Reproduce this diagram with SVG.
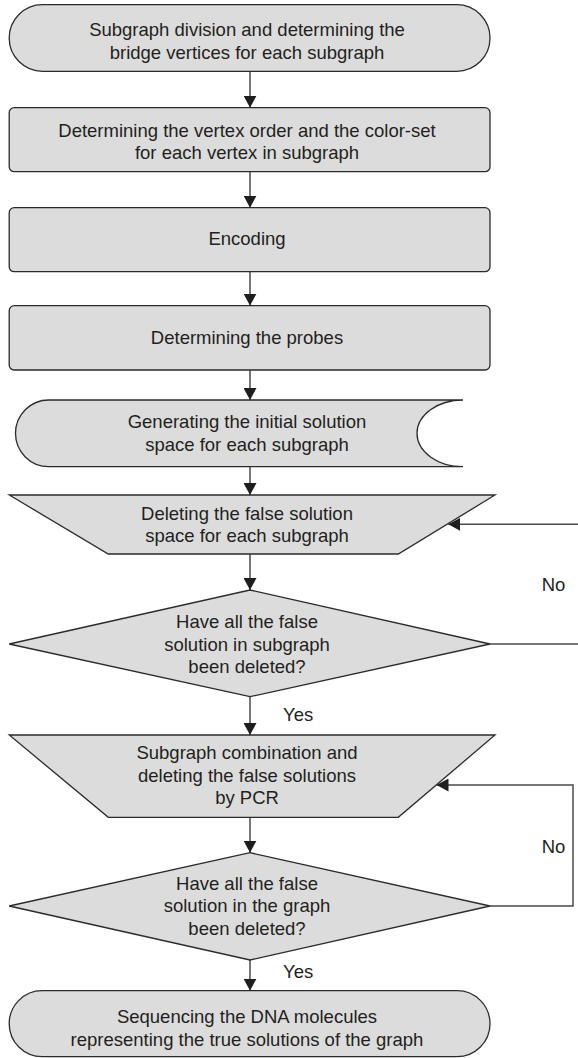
<svg xmlns="http://www.w3.org/2000/svg" width="578" height="1058" viewBox="0 0 578 1058">
<style>
.n{fill:#dcdcdc;stroke:#2b2b2b;stroke-width:1.3}
.t{font-family:"Liberation Sans",Arial,sans-serif;font-size:18.5px;fill:#231f20;text-anchor:middle}
.l{font-family:"Liberation Sans",Arial,sans-serif;font-size:18.5px;fill:#231f20}
.c{fill:none;stroke:#4a4a4a;stroke-width:1.5}
</style>
<defs>
<marker id="ah" markerUnits="userSpaceOnUse" markerWidth="13" markerHeight="13" refX="12" refY="6.5" orient="auto">
<path d="M0,0 L12,6.5 L0,13 z" fill="#1e1e1e"/>
</marker>
</defs>
<rect width="578" height="1058" fill="#fff"/>
<g id="connectors">
<line class="c" x1="250" y1="71.3" x2="250" y2="107.7" marker-end="url(#ah)"/>
<line class="c" x1="250" y1="171.7" x2="250" y2="207.7" marker-end="url(#ah)"/>
<line class="c" x1="250" y1="271.7" x2="250" y2="305.7" marker-end="url(#ah)"/>
<line class="c" x1="250" y1="370" x2="250" y2="400" marker-end="url(#ah)"/>
<line class="c" x1="250" y1="466.7" x2="250" y2="495" marker-end="url(#ah)"/>
<line class="c" x1="250" y1="554" x2="250" y2="590" marker-end="url(#ah)"/>
<line class="c" x1="250" y1="696.7" x2="250" y2="735" marker-end="url(#ah)"/>
<line class="c" x1="250" y1="817.3" x2="250" y2="852.7" marker-end="url(#ah)"/>
<line class="c" x1="250" y1="960" x2="250" y2="990.7" marker-end="url(#ah)"/>
<line class="c" x1="578" y1="524.3" x2="448.3" y2="524.3" marker-end="url(#ah)"/>
<line class="c" x1="490" y1="644" x2="578" y2="644"/>
<polyline class="c" points="490,906 573,906 573,785 436.5,785" marker-end="url(#ah)"/>
<text class="l" x="541.7" y="590.7">No</text>
<text class="l" x="283" y="721">Yes</text>
<text class="l" x="541.7" y="852.7">No</text>
<text class="l" x="283" y="978.3">Yes</text>
</g>
<g id="n1">
<rect class="n" x="9.2" y="4.7" width="480.8" height="66.6" rx="33.3" ry="33.3"/>
<text class="t" x="247" y="36">Subgraph division and determining the</text>
<text class="t" x="247" y="58.7">bridge vertices for each subgraph</text>
</g>
<g id="n2">
<rect class="n" x="9.2" y="107.7" width="480.8" height="64" rx="5" ry="5"/>
<text class="t" x="247" y="136.5">Determining the vertex order and the color-set</text>
<text class="t" x="247" y="159">for each vertex in subgraph</text>
</g>
<g id="n3">
<rect class="n" x="9.2" y="207.7" width="480.8" height="64" rx="5" ry="5"/>
<text class="t" x="247" y="245">Encoding</text>
</g>
<g id="n4">
<rect class="n" x="9.2" y="305.7" width="480.8" height="64.3" rx="5" ry="5"/>
<text class="t" x="247" y="344">Determining the probes</text>
</g>
<g id="n5">
<path class="n" d="M48.8,400 L463,400 A46,33.35 0 0 0 463,466.7 L48.8,466.7 A33.3,33.35 0 0 1 48.8,400 Z"/>
<text class="t" x="247" y="428.3">Generating the initial solution</text>
<text class="t" x="247" y="450.7">space for each subgraph</text>
</g>
<g id="n6">
<polygon class="n" points="9.3,495 495,495 398.3,554 108.3,554"/>
<text class="t" x="247" y="520">Deleting the false solution</text>
<text class="t" x="247" y="541.7">space for each subgraph</text>
</g>
<g id="n7">
<polygon class="n" points="250,590 490,644 250,696.7 9.2,644"/>
<text class="t" x="247" y="628">Have all the false</text>
<text class="t" x="247" y="650.7">solution in subgraph</text>
<text class="t" x="247" y="673.3">been deleted?</text>
</g>
<g id="n8">
<polygon class="n" points="9.3,735 495,735 398.3,817.3 108.3,817.3"/>
<text class="t" x="247" y="759">Subgraph combination and</text>
<text class="t" x="247" y="781.7">deleting the false solutions</text>
<text class="t" x="247" y="804">by PCR</text>
</g>
<g id="n9">
<polygon class="n" points="250,852.7 490,906 250,960 9.2,906"/>
<text class="t" x="247" y="890">Have all the false</text>
<text class="t" x="247" y="912.3">solution in the graph</text>
<text class="t" x="247" y="935">been deleted?</text>
</g>
<g id="n10">
<rect class="n" x="9.2" y="990.7" width="480.8" height="66" rx="33" ry="33"/>
<text class="t" x="247" y="1023.3">Sequencing the DNA molecules</text>
<text class="t" x="247" y="1045.7">representing the true solutions of the graph</text>
</g>
</svg>
